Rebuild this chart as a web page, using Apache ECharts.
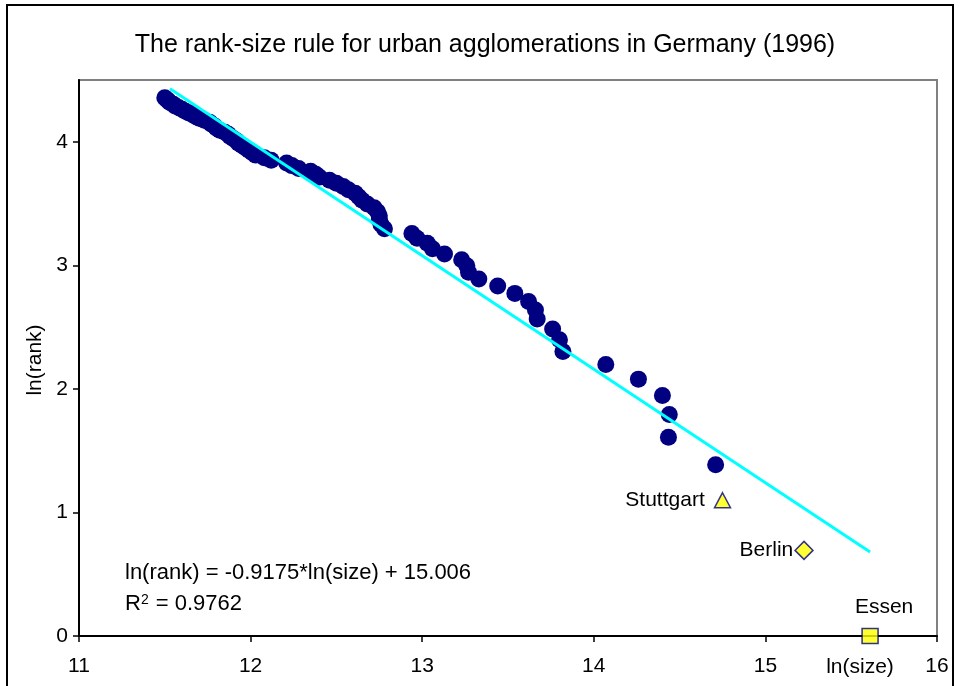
<!DOCTYPE html>
<html>
<head>
<meta charset="utf-8">
<script src="https://cdn.jsdelivr.net/npm/echarts@6/dist/echarts.min.js"></script>
<style>
  html, body { margin: 0; padding: 0; background: #fff; }
  #chart { width: 960px; height: 686px; }
</style>
</head>
<body>
<div id="chart"></div>
<script>
// ln(size) of the agglomerations, rank 4 .. 78
var citySize = [
  14.71, 14.435, 14.44, 14.40, 14.26, 14.07, 13.82, 13.80, 13.76, 13.67,
  13.66, 13.62, 13.54, 13.44, 13.33, 13.27, 13.26, 13.23, 13.13, 13.06,
  13.03, 12.97, 12.94, 12.78, 12.76, 12.75, 12.75, 12.74, 12.72, 12.68,
  12.65, 12.63, 12.61, 12.57, 12.54, 12.50, 12.46, 12.40, 12.38, 12.35,
  12.28, 12.24, 12.21, 12.12, 12.08, 12.03, 12.01, 11.99, 11.97, 11.95,
  11.93, 11.92, 11.90, 11.88, 11.87, 11.85, 11.82, 11.80, 11.79, 11.77,
  11.76, 11.73, 11.70, 11.68, 11.66, 11.64, 11.62, 11.60, 11.58, 11.56,
  11.55, 11.53, 11.52, 11.51, 11.50
];
// ln(rank) for rank 4 .. 78
var cityRank = [
  1.386, 1.609, 1.792, 1.946, 2.079, 2.197, 2.303, 2.398, 2.485, 2.565,
  2.639, 2.708, 2.773, 2.833, 2.890, 2.944, 2.996, 3.045, 3.091, 3.135,
  3.178, 3.219, 3.258, 3.296, 3.332, 3.367, 3.401, 3.434, 3.466, 3.497,
  3.526, 3.555, 3.584, 3.611, 3.638, 3.664, 3.689, 3.714, 3.738, 3.761,
  3.784, 3.807, 3.829, 3.850, 3.871, 3.892, 3.912, 3.932, 3.951, 3.970,
  3.989, 4.007, 4.025, 4.043, 4.060, 4.078, 4.094, 4.111, 4.127, 4.143,
  4.159, 4.174, 4.190, 4.205, 4.220, 4.234, 4.248, 4.263, 4.277, 4.290,
  4.304, 4.317, 4.331, 4.344, 4.357
];
// the three biggest
var bigNames = ['Essen', 'Berlin', 'Stuttgart'];
var bigSize = [15.61, 15.225, 14.75];
var bigRank = [0, 0.693, 1.099];
// trend line end points
var trendX = [11.53, 15.61];
var trendY = [4.43, 0.68];
var xTicks = [11, 12, 13, 14, 15, 16];
var yTicks = [0, 1, 2, 3, 4];

var chart = echarts.init(document.getElementById('chart'));

var pts = [];
for (var i = 0; i < citySize.length; i++) {
  pts.push([citySize[i], cityRank[i]]);
}
var trend = [];
for (var j = 0; j < trendX.length; j++) {
  trend.push([trendX[j], trendY[j]]);
}
var bigStyle = { color: '#FFFF00', borderColor: '#000080', borderWidth: 1.5 };
var FONT = '"Liberation Sans", Arial, sans-serif';
var bigLabel = { show: true, formatter: '{b}', color: '#000', fontSize: 21, textBorderWidth: 0, opacity: 1 };

var option = {
  animation: false,
  backgroundColor: '#fff',
  textStyle: { fontFamily: FONT },
  grid: {
    left: 79, right: 23, top: 80, bottom: 50,
    show: true,
    borderColor: '#808080',
    borderWidth: 2,
    backgroundColor: '#fff'
  },
  xAxis: {
    type: 'value',
    min: 11, max: 16, interval: 1,
    splitLine: { show: false },
    axisLine: { lineStyle: { color: '#000', width: 2 }, onZero: false },
    axisTick: { inside: false, length: 6, lineStyle: { color: '#000', width: 1.5 }, customValues: xTicks },
    axisLabel: { color: '#000', fontSize: 21, margin: 20, customValues: xTicks }
  },
  yAxis: {
    type: 'value',
    min: 0, max: 4.5, interval: 1,
    splitLine: { show: false },
    axisLine: { lineStyle: { color: '#000', width: 2 } },
    axisTick: { inside: false, length: 6, lineStyle: { color: '#000', width: 1.5 }, customValues: yTicks },
    axisLabel: { color: '#000', fontSize: 21, margin: 11, customValues: yTicks }
  },
  graphic: [
    {
      type: 'rect', z: -10, silent: true,
      shape: { x: 7, y: 5, width: 946, height: 720 },
      style: { fill: null, stroke: '#000', lineWidth: 2 }
    },
    {
      type: 'text', x: 485, y: 45,
      style: { text: 'The rank-size rule for urban agglomerations in Germany (1996)', font: '25px ' + FONT, fill: '#000', align: 'center', verticalAlign: 'middle' }
    },
    {
      type: 'text', x: 860, y: 667,
      style: { text: 'ln(size)', font: '21px ' + FONT, fill: '#000', align: 'center', verticalAlign: 'middle' }
    },
    {
      type: 'text', x: 35, y: 360, rotation: Math.PI / 2,
      style: { text: 'ln(rank)', font: '21px ' + FONT, fill: '#000', align: 'center', verticalAlign: 'middle' }
    },
    {
      type: 'text', x: 125, y: 573,
      style: { text: 'ln(rank) = -0.9175*ln(size) + 15.006', font: '22px ' + FONT, fill: '#000', verticalAlign: 'middle' }
    },
    {
      type: 'text', x: 125, y: 604,
      style: {
        text: '{a|R}{s|2}{a| = 0.9762}',
        verticalAlign: 'middle',
        rich: {
          a: { fontSize: 22, fontFamily: 'Liberation Sans', color: '#000' },
          s: { fontSize: 14, fontFamily: 'Liberation Sans', color: '#000', verticalAlign: 'top', padding: [0, 1, 8, 0] }
        }
      }
    }
  ],
  series: [
    {
      type: 'scatter',
      data: pts,
      symbol: 'circle',
      symbolSize: 17,
      itemStyle: { color: '#000080', opacity: 1 },
      z: 3
    },
    {
      type: 'line',
      data: trend,
      symbol: 'none',
      lineStyle: { color: '#00FFFF', width: 3 },
      z: 4
    },
    {
      type: 'scatter',
      data: [{ value: [bigSize[0], bigRank[0]], name: bigNames[0] }],
      symbol: 'rect', symbolSize: [16, 15],
      itemStyle: bigStyle,
      label: Object.assign({ position: 'top', distance: 10, offset: [14, 0] }, bigLabel),
      z: 5
    },
    {
      type: 'scatter',
      data: [{ value: [bigSize[1], bigRank[1]], name: bigNames[1] }],
      symbol: 'diamond', symbolSize: [18, 18],
      itemStyle: bigStyle,
      label: Object.assign({ position: 'left', distance: 1 }, bigLabel),
      z: 5
    },
    {
      type: 'scatter',
      data: [{ value: [bigSize[2], bigRank[2]], name: bigNames[2] }],
      symbol: 'triangle', symbolSize: [16, 15],
      itemStyle: bigStyle,
      label: Object.assign({ position: 'left', distance: 9 }, bigLabel),
      z: 5
    }
  ]
};
chart.setOption(option);
</script>
</body>
</html>
